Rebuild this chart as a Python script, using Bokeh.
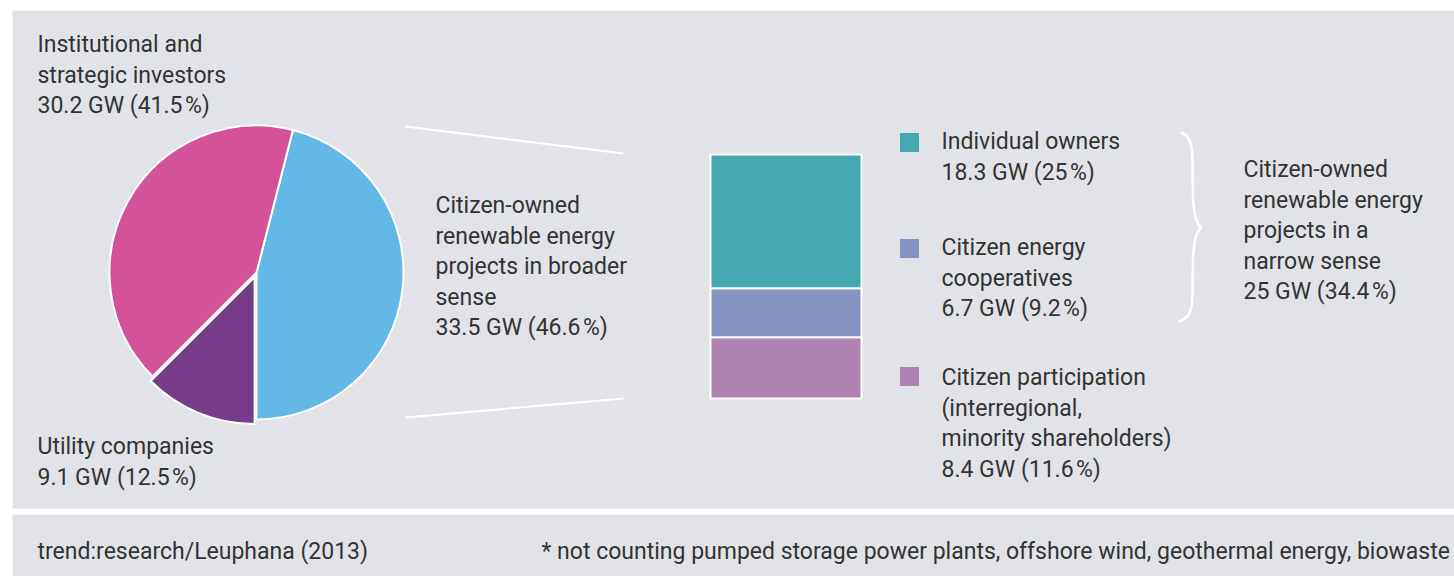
import numpy as np
from bokeh.plotting import figure
from bokeh.models import Range1d, ColumnDataSource
from bokeh.core.properties import value
from bokeh.embed import file_html
from bokeh.resources import INLINE

# ---------------- data ----------------
pie_names = ["Citizen-owned renewable energy projects in broader sense",
             "Institutional and strategic investors",
             "Utility companies"]
pie_gw = [33.5, 30.2, 9.1]
pie_pct = [46.6, 41.5, 12.5]
pie_colors = ["#63b8e6", "#d45398", "#773c89"]

bar_names = ["Individual owners", "Citizen energy cooperatives",
             "Citizen participation (interregional, minority shareholders)"]
bar_gw = [18.3, 6.7, 8.4]
bar_pct = [25, 9.2, 11.6]
bar_colors = ["#45a8b1", "#8493c2", "#ae83b2"]

narrow_gw = 25
narrow_pct = 34.4

source_note = "trend:research/Leuphana (2013)"
foot_note = "* not counting pumped storage power plants, offshore wind, geothermal energy, biowaste"

# ---------------- layout / style ----------------
W, H = 1454, 576
BG = "#e2e3e8"
TXT = "#333333"
FONT = "Roboto"
FS = "23px"

def Y(y):
    return H - y

def fmt(gw, pct):
    g = ("%g" % gw)
    return f"{g} GW ({pct:g}\u200a%)"

p = figure(width=W, height=H, x_range=Range1d(0, W), y_range=Range1d(0, H),
           x_axis_location=None, y_axis_location=None, toolbar_location=None,
           output_backend="svg", min_border=0, background_fill_color="white",
           border_fill_color="white")
p.grid.visible = False
p.outline_line_color = None

# panels
p.quad(left=[12, 12], right=[W, W], bottom=[Y(508), Y(576)], top=[Y(10), Y(514)],
       fill_color=BG, line_color=None)

# pie
cx, cy, r = 256, Y(272), 147
ang = np.array(pie_gw) / sum(pie_gw) * 2 * np.pi
starts = -np.pi / 2 + np.concatenate([[0], np.cumsum(ang)[:-1]])
ends = starts + ang
mids = (starts + ends) / 2
explode = [0, 0, 5]
xs = [cx + e * np.cos(m) for e, m in zip(explode, mids)]
ys = [cy + e * np.sin(m) for e, m in zip(explode, mids)]
p.wedge(x=xs, y=ys, radius=r, start_angle=list(starts), end_angle=list(ends),
        fill_color=pie_colors, line_color="white", line_width=2)

# connector lines
p.segment(x0=[405, 405], y0=[Y(126), Y(417)], x1=[623, 623], y1=[Y(153), Y(398)],
          line_color="white", line_width=2)

# stacked bar (top = first item)
bar_top, bar_bottom = Y(154), Y(398)
scale = (bar_top - bar_bottom) / sum(bar_gw)
rev = bar_gw[::-1]
bottoms = bar_bottom + scale * np.concatenate([[0], np.cumsum(rev)[:-1]])
tops = bar_bottom + scale * np.cumsum(rev)
p.quad(left=710, right=861, bottom=list(bottoms), top=list(tops),
       fill_color=bar_colors[::-1], line_color="white", line_width=2)

# legend squares
sq_y = [142, 248, 376]
p.rect(x=909, y=[Y(v) for v in sq_y], width=19, height=19,
       fill_color=bar_colors, line_color=None)

# brace
bx = [(1180, 132, 1190, 134, 1192, 146, 1192, 162),
      (1192, 162, 1192, 205, 1193, 222, 1201, 227),
      (1201, 227, 1193, 232, 1192, 250, 1192, 292),
      (1192, 292, 1192, 308, 1190, 318, 1178, 321)]
p.bezier(x0=[b[0] for b in bx], y0=[Y(b[1]) for b in bx],
         cx0=[b[2] for b in bx], cy0=[Y(b[3]) for b in bx],
         cx1=[b[4] for b in bx], cy1=[Y(b[5]) for b in bx],
         x1=[b[6] for b in bx], y1=[Y(b[7]) for b in bx],
         line_color="white", line_width=2.5)

# text blocks
def block(lines, x, y0, step=30.5, size=FS):
    src = ColumnDataSource(dict(x=[x] * len(lines),
                                y=[Y(y0 + i * step) for i in range(len(lines))],
                                t=lines))
    p.text(x="x", y="y", text="t", source=src, text_font=value(FONT),
           text_font_size=size, text_color=TXT, text_baseline="middle",
           text_align="left")

block(["Institutional and", "strategic investors", fmt(pie_gw[1], pie_pct[1])], 37, 44)
block(["Utility companies", fmt(pie_gw[2], pie_pct[2])], 37, 446)
block(["Citizen-owned", "renewable energy", "projects in broader", "sense",
       fmt(pie_gw[0], pie_pct[0])], 435, 205)
block(["Individual owners", fmt(bar_gw[0], bar_pct[0])], 941, 141)
block(["Citizen energy", "cooperatives", fmt(bar_gw[1], bar_pct[1])], 941, 247)
block(["Citizen participation", "(interregional,", "minority shareholders)",
       fmt(bar_gw[2], bar_pct[2])], 941, 377)
block(["Citizen-owned", "renewable energy", "projects in a", "narrow sense",
       fmt(narrow_gw, narrow_pct)], 1243, 169)
block([source_note], 37, 551)
block([foot_note], 541, 551)

open("out.html", "w").write(file_html(p, INLINE))
